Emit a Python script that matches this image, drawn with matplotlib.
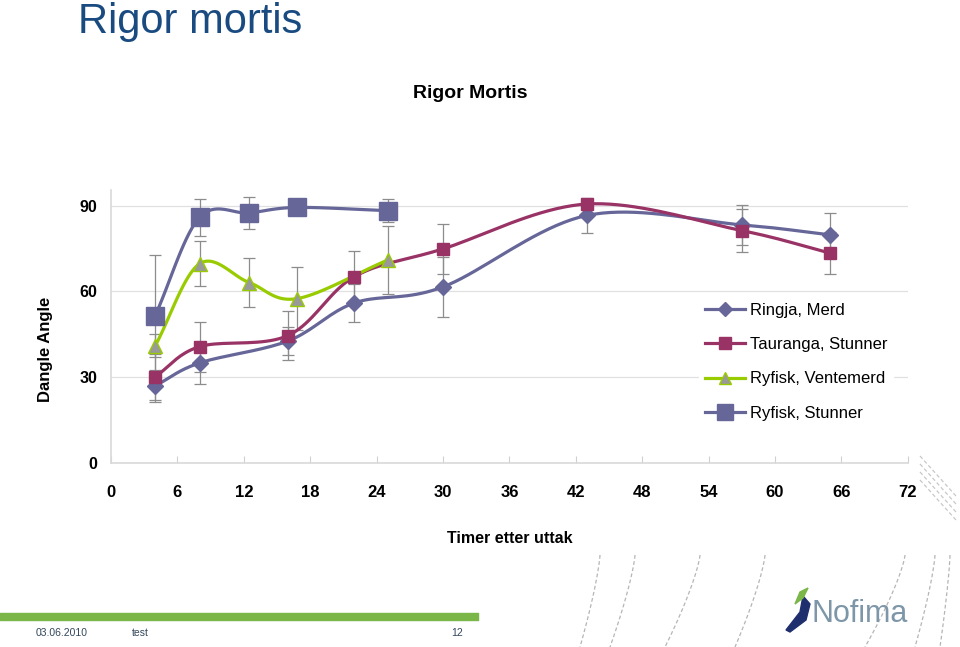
import numpy as np
import matplotlib
matplotlib.use("Agg")
import matplotlib.pyplot as plt
from matplotlib.patches import Polygon

plt.rcParams['font.family'] = ['Liberation Sans', 'DejaVu Sans']

# --- data ---
t_ringja = [4, 8, 16, 22, 30, 43, 57, 65]
v_ringja = [27, 35, 42.7, 56, 61.6, 86.6, 83.3, 79.8]
e_ringja = [5.6, 7.4, 5, 6.5, 10.4, 6.2, 7, 7.8]

t_tauranga = [4, 8, 16, 22, 30, 43, 57, 65]
v_tauranga = [30.2, 40.7, 44.6, 65.2, 74.9, 90.6, 81.3, 73.4]
e_tauranga = [8, 8.8, 8.6, 9, 8.8, 0.5, 7.5, 7.4]

t_vente = [4, 8, 12.5, 16.8, 25]
v_vente = [41, 69.7, 63.1, 57.5, 71]
e_vente = [4, 7.8, 8.6, 11, 12]

t_stunner = [4, 8, 12.5, 16.8, 25]
v_stunner = [51.6, 85.9, 87.5, 89.4, 88.3]
e_stunner = [21, 6.5, 5.6, 1, 4]

x_ticks = [0, 6, 12, 18, 24, 30, 36, 42, 48, 54, 60, 66, 72]
y_ticks = [0, 30, 60, 90]


def smooth(x, y, n=20):
    # Catmull-Rom curve through the points, like Excel's smoothed line
    x = np.asarray(x, float)
    y = np.asarray(y, float)
    px = np.concatenate([[2 * x[0] - x[1]], x, [2 * x[-1] - x[-2]]])
    py = np.concatenate([[2 * y[0] - y[1]], y, [2 * y[-1] - y[-2]]])
    xs, ys = [], []
    s = np.linspace(0, 1, n, endpoint=False)
    for i in range(1, len(px) - 2):
        for p, out in ((px, xs), (py, ys)):
            p0, p1, p2, p3 = p[i - 1], p[i], p[i + 1], p[i + 2]
            out.extend(0.5 * (2 * p1 + (-p0 + p2) * s
                              + (2 * p0 - 5 * p1 + 4 * p2 - p3) * s ** 2
                              + (-p0 + 3 * p1 - 3 * p2 + p3) * s ** 3))
    xs.append(x[-1])
    ys.append(y[-1])
    return xs, ys


fig = plt.figure(figsize=(9.6, 6.47), dpi=100)
ax = fig.add_axes([0.1156, 0.2844, 0.830, 0.4219])

slate = '#666699'
plum = '#993366'
lime = '#99cc00'
grey_bar = '#8c8c8c'

series = [
    (t_ringja, v_ringja, e_ringja, 'Ringja, Merd', slate, 'D', 8, slate, slate),
    (t_tauranga, v_tauranga, e_tauranga, 'Tauranga, Stunner', plum, 's', 9, plum, plum),
    (t_vente, v_vente, e_vente, 'Ryfisk, Ventemerd', lime, '^', 10, '#999999', lime),
    (t_stunner, v_stunner, e_stunner, 'Ryfisk, Stunner', slate, 's', 12.5, slate, slate),
]

for t, v, e, lab, col, mk, ms, mfc, mec in series:
    ax.errorbar(t, v, yerr=e, fmt='none', ecolor=grey_bar, elinewidth=0.9,
                capsize=4, capthick=0.9, zorder=2)
    sx, sy = smooth(t, v)
    ax.plot(sx, sy, color=col, lw=2.3, zorder=3)
    ax.plot(t, v, linestyle='none', marker=mk, ms=ms, mfc=mfc, mec=mec,
            mew=1, zorder=4)
    ax.plot([], [], color=col, lw=2.3, marker=mk, ms=ms * 0.9, mfc=mfc,
            mec=mec, label=lab)

ax.set_xlim(0, 72)
ax.set_ylim(0, 95.5)
ax.set_xticks(x_ticks)
ax.set_xticklabels([str(x) for x in x_ticks], fontsize=12, fontweight='bold')
ax.set_yticks(y_ticks)
ax.set_yticklabels([str(y) for y in y_ticks], fontsize=11.5, fontweight='bold')
ax.tick_params(axis='x', direction='in', length=5, color='#d0d0d0', pad=16)
ax.tick_params(axis='y', length=0, pad=10)
ax.yaxis.grid(True, color='#e0e0e0', lw=0.9)
ax.set_axisbelow(True)
for side in ('top', 'right'):
    ax.spines[side].set_visible(False)
for side in ('left', 'bottom'):
    ax.spines[side].set_color('#d9d9d9')
    ax.spines[side].set_linewidth(1.2)

leg = ax.legend(loc='upper left', bbox_to_anchor=(0.738, 0.607), frameon=True,
                fontsize=12, handlelength=2.4, labelspacing=1.15,
                borderpad=0.35, handletextpad=0.3, borderaxespad=0)
leg.get_frame().set_facecolor('white')
leg.get_frame().set_edgecolor('white')
leg.get_frame().set_alpha(1)
leg.set_zorder(5)

# titles and axis labels
fig.text(0.081, 0.966, 'Rigor mortis', fontsize=30, color='#1a4b80',
         ha='left', va='center')
fig.text(0.49, 0.855, 'Rigor Mortis', fontsize=14, fontweight='bold',
         ha='center', va='center')
fig.text(0.047, 0.46, 'Dangle Angle', fontsize=12, fontweight='bold',
         rotation=90, ha='center', va='center')
fig.text(0.531, 0.168, 'Timer etter uttak', fontsize=11.5, fontweight='bold',
         ha='center', va='center')

# decorative dashed curves behind the logo
deco = fig.add_axes([0, 0, 1, 1], zorder=-1)
deco.set_xlim(0, 960)
deco.set_ylim(647, 0)
deco.axis('off')
yy = np.linspace(555, 647, 50)
for x0, bend in [(600, -20), (635, -25), (700, -35), (765, -30), (905, -40),
                 (935, -20), (950, -10)]:
    deco.plot(x0 + bend * ((yy - 555) / 92) ** 1.3, yy, color='#b5b5b5',
              lw=0.9, ls=(0, (3, 2)))
yy2 = np.linspace(470, 510, 20)
for k in range(4):
    deco.plot(920 + (yy2 - 470) * 0.9, yy2 - k * 8 + 10, color='#c8c8c8',
              lw=0.9, ls=(0, (3, 2)))

# footer
deco.fill_between([0, 478], 613, 620, color='#7ab648')
deco.text(36, 633, '03.06.2010', fontsize=7.5, color='#33475b', va='center')
deco.text(132, 633, 'test', fontsize=7.5, color='#33475b', va='center')
deco.text(463, 633, '12', fontsize=7.5, color='#33475b', va='center',
          ha='right')

# logo
deco.add_patch(Polygon([[786, 630], [800, 612], [803, 596], [810, 604],
                        [806, 620], [790, 632]], closed=True, color='#1f2f6e'))
deco.add_patch(Polygon([[795, 604], [800, 592], [808, 588], [803, 598]],
                       closed=True, color='#7ab648'))
deco.text(812, 614, 'Nofima', fontsize=22, color='#7d96a8', va='center',
          ha='left')

fig.savefig('out.png', dpi=100)
